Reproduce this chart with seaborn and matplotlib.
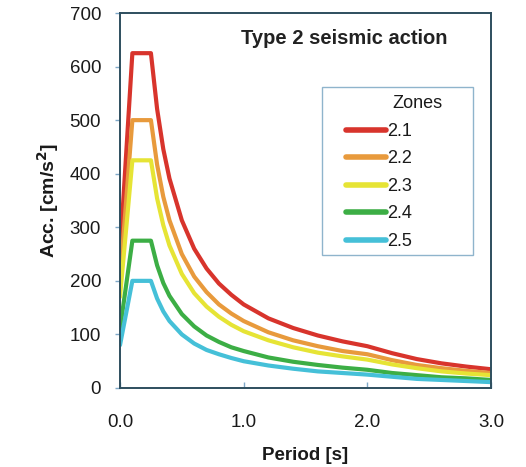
import matplotlib
matplotlib.use("Agg")
import matplotlib.pyplot as plt
from matplotlib.patches import Rectangle
import seaborn as sns
import pandas as pd

period = [0, 0.1, 0.25, 0.3, 0.35, 0.4, 0.5, 0.6, 0.7, 0.8, 0.9, 1.0, 1.2, 1.4, 1.6, 1.8, 2.0, 2.2, 2.4, 2.6, 2.8, 3.0]
zone_21 = [250, 625, 625, 521, 446, 391, 313, 260, 223, 195, 174, 156, 130, 112, 98, 87, 78, 65, 54, 46, 40, 35]
zone_22 = [200, 500, 500, 417, 357, 313, 250, 208, 179, 156, 139, 125, 104, 89, 78, 69, 63, 52, 43, 37, 32, 28]
zone_23 = [170, 425, 425, 354, 304, 266, 213, 177, 152, 133, 118, 106, 89, 76, 66, 59, 53, 44, 37, 31, 27, 24]
zone_24 = [110, 275, 275, 229, 196, 172, 138, 115, 98, 86, 76, 69, 57, 49, 43, 38, 34, 28, 24, 20, 18, 15]
zone_25 = [80, 200, 200, 167, 143, 125, 100, 83, 71, 63, 56, 50, 42, 36, 31, 28, 25, 21, 17, 15, 13, 11]
zones = ["2.1", "2.2", "2.3", "2.4", "2.5"]
colors = ["#d8342c", "#e89a3c", "#e6e435", "#3cae45", "#45c0d8"]
xtick_labels = ["0.0", "1.0", "2.0", "3.0"]

series = [zone_21, zone_22, zone_23, zone_24, zone_25]
rows = []
for z, vals in zip(zones, series):
    for t, v in zip(period, vals):
        rows.append({"Period": t, "Acc": v, "Zone": z})
df = pd.DataFrame(rows)

sns.set_style("white")
plt.rcParams["font.family"] = ["Liberation Sans", "DejaVu Sans"]

W, H = 526, 467
fig = plt.figure(figsize=(W / 100, H / 100), dpi=100)
ax = fig.add_axes([120 / W, 1 - 388 / H, 371 / W, 375 / H])

sns.lineplot(data=df, x="Period", y="Acc", hue="Zone", palette=colors,
             linewidth=3.0, ax=ax, sort=False)

ax.set_xlim(0, 3.0)
ax.set_ylim(0, 700)
ax.set_xticks([0, 1.0, 2.0, 3.0])
ax.set_xticklabels(xtick_labels)
ax.set_yticks(range(0, 701, 100))
ax.tick_params(axis="y", direction="out", length=3.6, width=1, color="#7fa8c8",
               labelsize=13.5, pad=10, labelcolor="#1a1a1a")
ax.tick_params(axis="x", direction="in", length=4, width=1, color="#7fa8c8",
               labelsize=13.5, pad=19, labelcolor="#1a1a1a")
ax.tick_params(left=True, bottom=True)
for s in ax.spines.values():
    s.set_color("#2e4e5e")
    s.set_linewidth(1.4)

ax.set_xlabel("Period [s]", fontsize=13.5, fontweight="bold", labelpad=11, color="#1a1a1a")
ax.set_ylabel("Acc. [cm/s$^\\mathbf{2}$]", fontsize=14, fontweight="bold", labelpad=6, color="#1a1a1a")

ax.text(344, H - 38, "Type 2 seismic action", transform=None,
        ha="center", va="center", fontsize=14.5, fontweight="bold", color="#222222")

# legend frame
ax.add_patch(Rectangle((322, H - 255), 151, 168, transform=None, fill=False,
                       edgecolor="#8fb4cc", linewidth=1.0, zorder=5))
ax.text(392, H - 103, "Zones", transform=None, ha="left", va="center",
        fontsize=13, color="#1a1a1a")

leg = ax.legend(loc="upper left", bbox_to_anchor=(346 / W, 1 - 123 / H),
                bbox_transform=fig.transFigure,
                fontsize=13, frameon=False,
                handlelength=2.2, handletextpad=0.1, labelspacing=0.58,
                borderpad=0, borderaxespad=0)
for line in leg.get_lines():
    line.set_linewidth(4)
for t in leg.get_texts():
    t.set_color("#1a1a1a")

fig.savefig("out.png", dpi=100)
